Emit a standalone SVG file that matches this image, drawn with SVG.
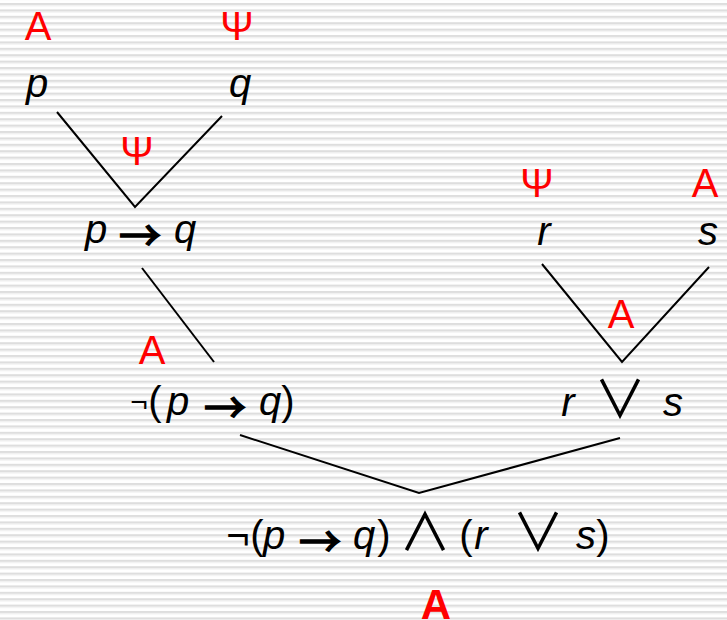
<svg xmlns="http://www.w3.org/2000/svg" width="727" height="620" viewBox="0 0 727 620">
<defs>
<pattern id="stripes" patternUnits="userSpaceOnUse" x="0" y="3" width="727" height="6.4">
<rect x="0" y="0" width="727" height="6.4" fill="#ffffff"/>
<rect x="0" y="0" width="727" height="2" fill="#dedede"/>
<rect x="0" y="2" width="727" height="1.2" fill="#eeeeee"/>
</pattern>
<style>
text { font-family: "Liberation Sans", Arial, sans-serif; font-size: 40px; fill: #000; text-anchor: middle; }
.lbl { fill: #ff0000; }
.big { font-weight: bold; font-size: 42px; }
.it { font-style: italic; }
.neg { font-size: 30px; }
.op { font-family: "Noto Sans CJK JP", "DejaVu Sans", sans-serif; font-size: 52px; }
.ar { font-family: "Noto Sans CJK JP", "DejaVu Sans", sans-serif; font-size: 42px; stroke: #000; stroke-width: 1.6; }
.edge { stroke: #000; stroke-width: 2; fill: none; }
</style>
</defs>
<rect width="727" height="620" fill="url(#stripes)"/>
<g id="connectors">
<polyline class="edge" points="57,112 135,207 222,116"/>
<line class="edge" x1="142" y1="268" x2="214" y2="362"/>
<polyline class="edge" points="542,264 622,362 709,267"/>
<polyline class="edge" points="240,435 419,493 620,438"/>
</g>
<g id="node-p">
<text class="lbl" x="38" y="40">A</text>
<text class="it" x="37" y="97">p</text>
</g>
<g id="node-q">
<text class="lbl" x="237" y="40">Ψ</text>
<text class="it" x="240" y="97">q</text>
</g>
<g id="node-impl">
<text class="lbl" x="137" y="165">Ψ</text>
<text class="it" x="96" y="243">p</text>
<text class="ar" x="140" y="251">→</text>
<text class="it" x="185" y="243">q</text>
</g>
<g id="node-neg">
<text class="lbl" x="152" y="364">A</text>
<text class="neg" x="139" y="412">¬</text>
<text x="155" y="415">(</text>
<text class="it" x="178" y="415">p</text>
<text class="ar" x="225" y="423">→</text>
<text class="it" x="270" y="415">q</text>
<text x="288" y="415">)</text>
</g>
<g id="node-r">
<text class="lbl" x="537" y="197">Ψ</text>
<text class="it" x="544" y="245">r</text>
</g>
<g id="node-s">
<text class="lbl" x="705" y="197">A</text>
<text class="it" x="708" y="245">s</text>
</g>
<g id="node-or">
<text class="lbl" x="621" y="328">A</text>
<text class="it" x="568" y="416">r</text>
<text class="op" x="620" y="418">∨</text>
<text class="it" x="673" y="416">s</text>
</g>
<g id="node-root">
<text x="238" y="549">¬</text>
<text x="257" y="549">(</text>
<text class="it" x="274" y="549">p</text>
<text class="ar" x="320" y="557">→</text>
<text class="it" x="364" y="549">q</text>
<text x="384" y="549">)</text>
<text class="op" x="425" y="551">∧</text>
<text x="466" y="549">(</text>
<text class="it" x="481" y="549">r</text>
<text class="op" x="538" y="551">∨</text>
<text class="it" x="586" y="549">s</text>
<text x="603" y="549">)</text>
<text class="lbl big" x="436" y="619">A</text>
</g>
</svg>
